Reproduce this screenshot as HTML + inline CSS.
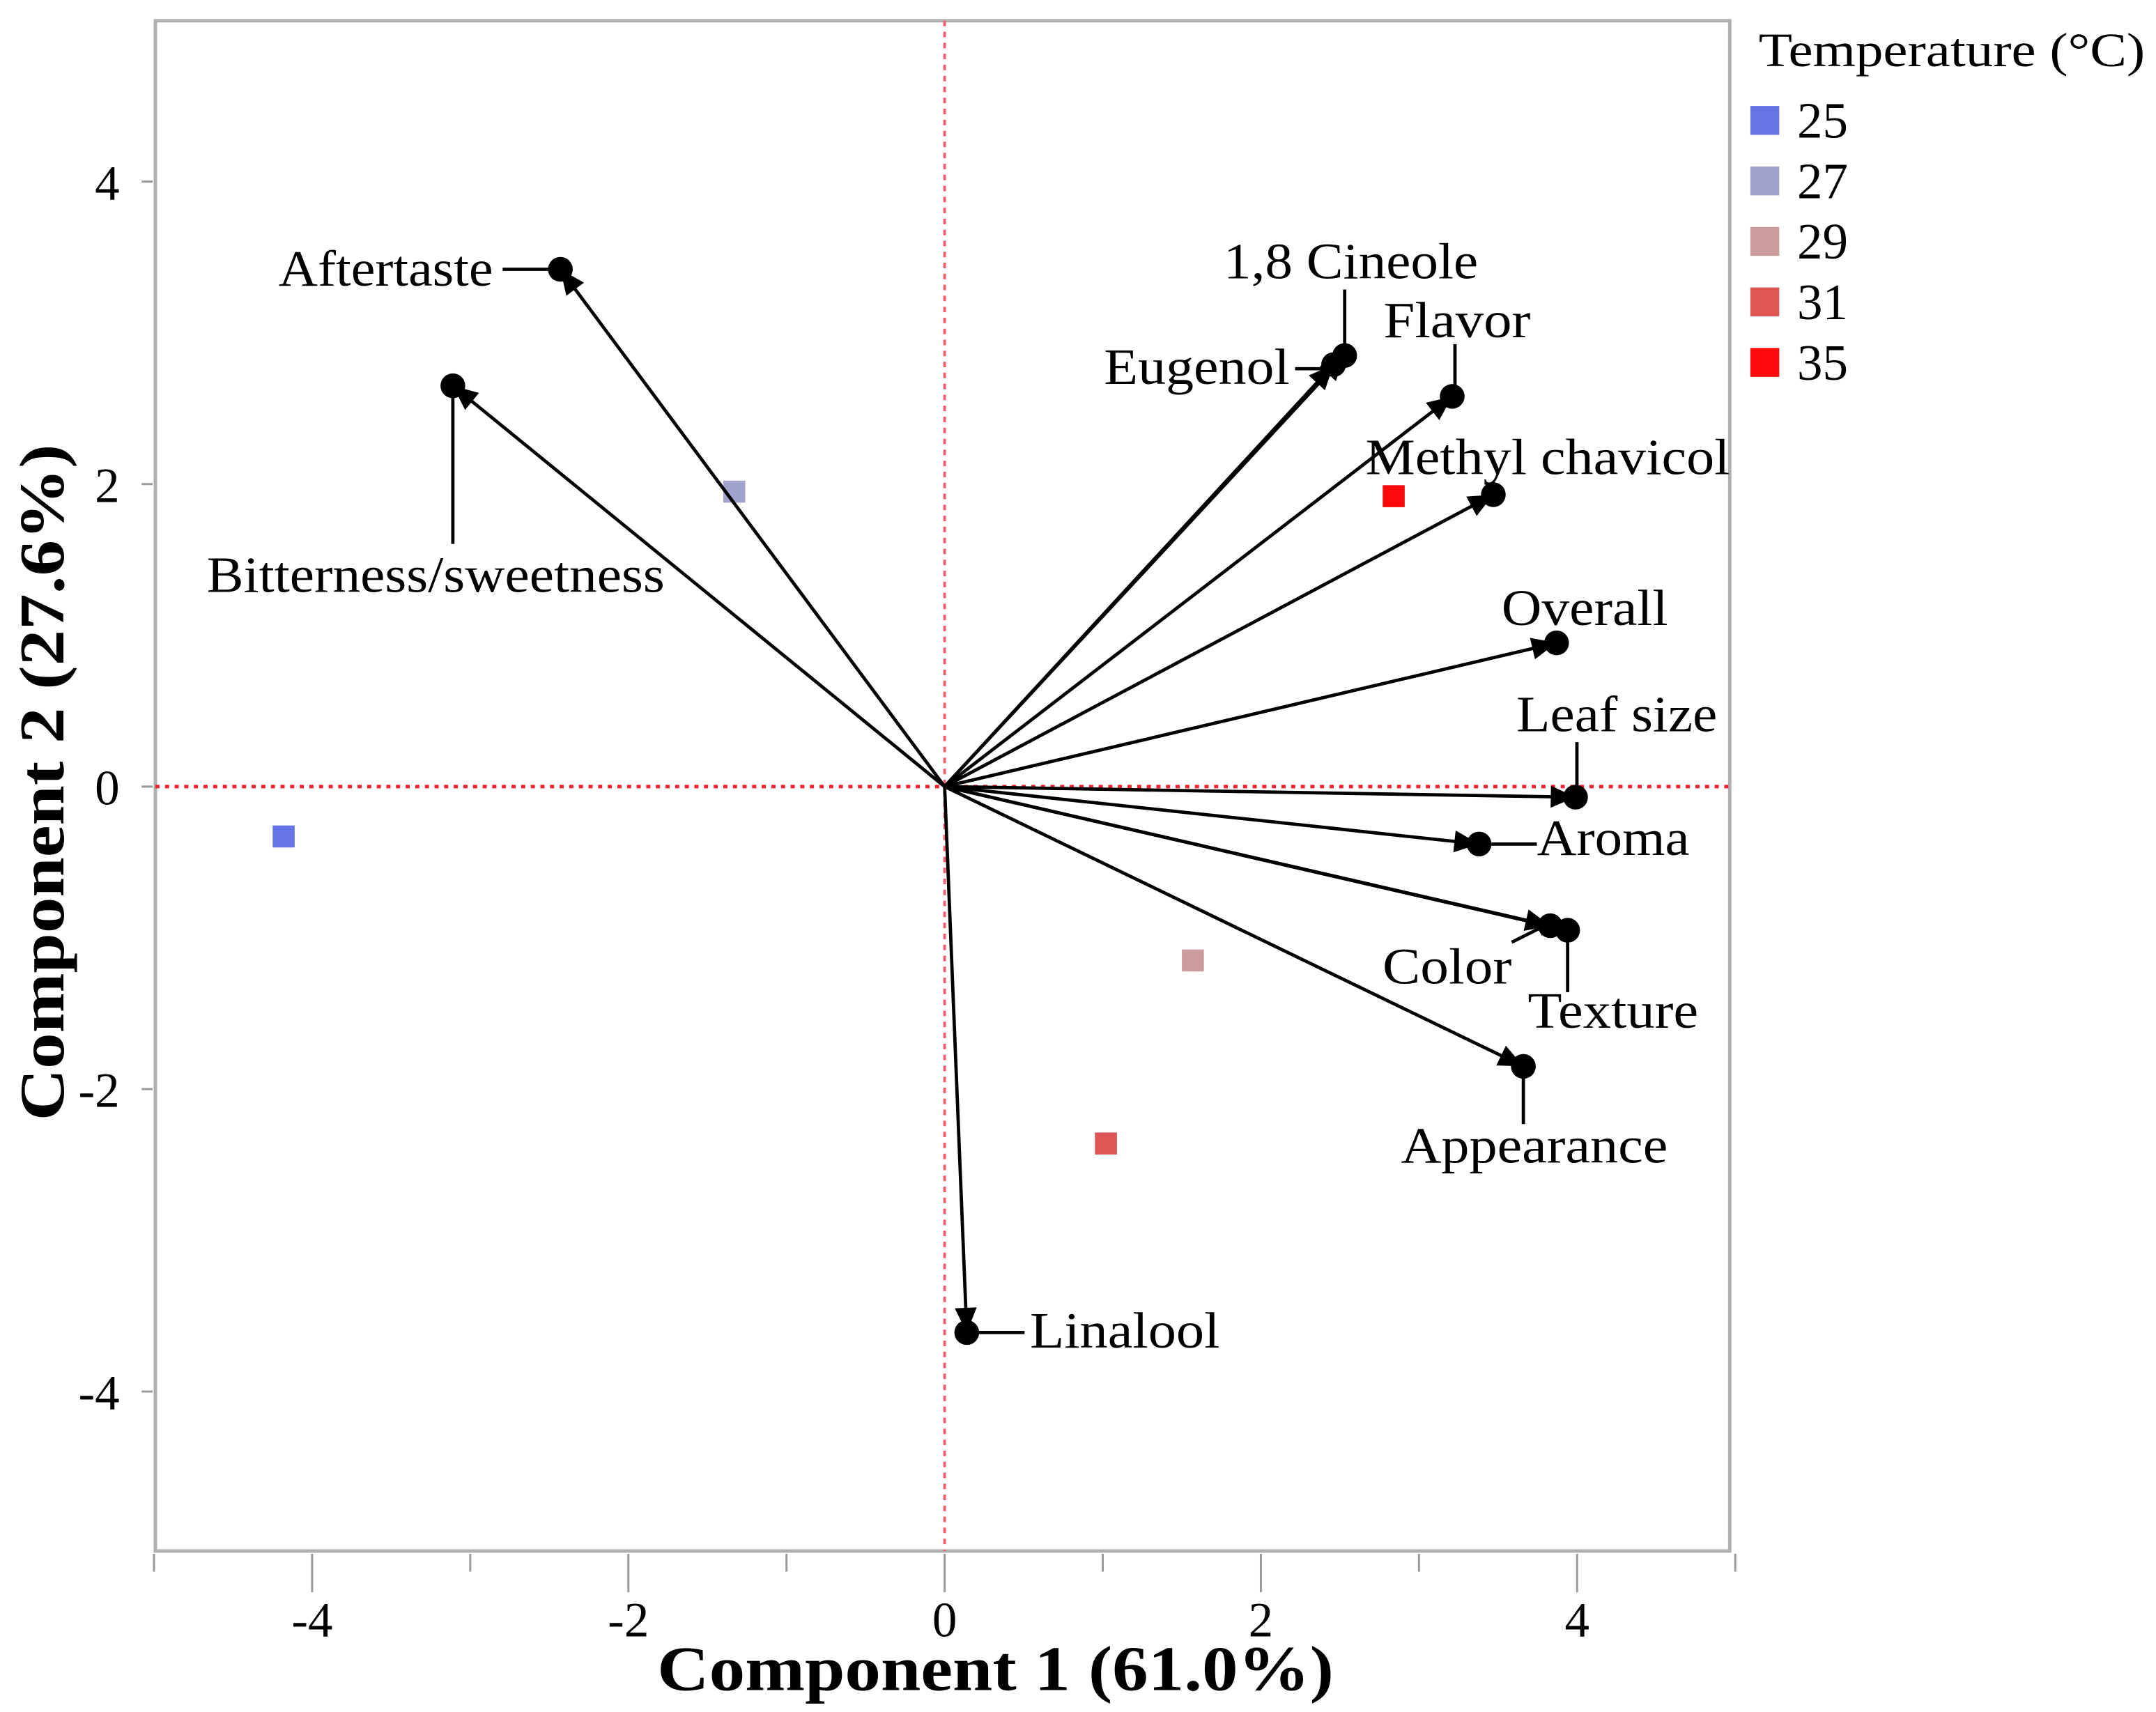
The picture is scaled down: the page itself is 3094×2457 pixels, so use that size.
<!DOCTYPE html>
<html><head><meta charset="utf-8">
<style>
html,body{margin:0;padding:0;background:#fff;}
svg{display:block;}
text{font-family:"Liberation Serif",serif;fill:#000;}
</style></head>
<body>
<svg id="chart" width="3094" height="2457" viewBox="0 0 1568 1245" xmlns="http://www.w3.org/2000/svg">
<rect x="0" y="0" width="1568" height="1245" fill="#fff"/>
<rect x="113" y="15" width="1145" height="1113" fill="none" stroke="#b0b0b0" stroke-width="2.5"/>
<g id="axes"></g>
<g id="marks"></g>
<text x="478" y="1229" font-size="46" font-weight="bold" textLength="492" lengthAdjust="spacingAndGlyphs">Component 1 (61.0%)</text>
<text transform="translate(46,815) rotate(-90)" font-size="46" font-weight="bold" textLength="492" lengthAdjust="spacingAndGlyphs">Component 2 (27.6%)</text>
<g>
<text x="1279" y="48" font-size="35" textLength="281" lengthAdjust="spacingAndGlyphs">Temperature (°C)</text>
<g id="legend-items"></g>
</g>
</svg>
<script>
var variables = ["Aftertaste","Bitterness/sweetness","1,8 Cineole","Eugenol","Flavor","Methyl chavicol","Overall","Leaf size","Aroma","Color","Texture","Appearance","Linalool"];
var loadX = [-2.43,-3.11,2.53,2.46,3.21,3.47,3.87,3.99,3.38,3.83,3.94,3.66,0.14];
var loadY = [3.42,2.65,2.85,2.79,2.58,1.93,0.95,-0.07,-0.38,-0.92,-0.95,-1.85,-3.61];
var temps = ["25","27","29","31","35"];
var scoreX = [-4.18,-1.33,1.57,1.02,2.84];
var scoreY = [-0.33,1.95,-1.15,-2.36,1.92];
var tempColors = ["#6674e6","#a0a4cc","#cc9c9c","#e05556","#fa0a0a"];
var xTicks = [-4,-2,0,2,4];
var yTicks = [-4,-2,0,2,4];

var NS="http://www.w3.org/2000/svg";
function X(v){return 687+115*v;}
function Y(v){return 572-110*v;}
function mk(tag,attrs,parent){var e=document.createElementNS(NS,tag);for(var k in attrs)e.setAttribute(k,attrs[k]);parent.appendChild(e);return e;}
var axes=document.getElementById('axes'), marks=document.getElementById('marks');

var r1=mk('line',{x1:X(0),y1:15,x2:X(0),y2:1128,stroke:'#f06070','stroke-width':2,'stroke-dasharray':'4,4'},axes);


var r2=mk('line',{x1:113,y1:Y(0),x2:1258,y2:Y(0),stroke:'#f02030','stroke-width':2.5,'stroke-dasharray':'3,4'},axes);



for(var t=-5;t<=5;t++){
  var major = (t%2===0);
  var tk=mk('line',{x1:X(t),y1:1130,x2:X(t),y2:major?1158:1143,stroke:'#999','stroke-width':1.5},axes);
  
  
}
xTicks.forEach(function(v){
  var tx=mk('text',{x:X(v),y:1190,'font-size':36,'text-anchor':'middle'},axes);
  tx.textContent=v;
  
  
});
yTicks.forEach(function(v){
  var tk=mk('line',{x1:103,y1:Y(v),x2:111,y2:Y(v),stroke:'#999','stroke-width':1.5},axes);
  
  
  var tx=mk('text',{x:87,y:Y(v)+13,'font-size':36,'text-anchor':'end'},axes);
  tx.textContent=v;
  
  
});

temps.forEach(function(t,i){
  var r=mk('rect',{x:X(scoreX[i])-8,y:Y(scoreY[i])-8,width:16,height:16,fill:tempColors[i]},marks);
  
  
  var lg=document.getElementById('legend-items');
  var yy=87+44*i;
  var sq=mk('rect',{x:1273,y:yy-10,width:21,height:21,fill:tempColors[i]},lg);
  
  
  var lt=mk('text',{x:1307,y:yy+13,'font-size':37},lg);
  lt.textContent=t;
  
  
});

// [dx,dy,anchor,leader,text width]
var lab = [
 [-205,12,'start',[-42,0,-6,0],156],
 [-179,150,'start',[0,5,0,115],333],
 [-88,-56,'start',[0,-48,0,-6],185],
 [-167,14,'start',[-28,3,-5,3],135],
 [-50,-43,'start',[2,-38,2,-5],107],
 [-93,-15,'start',[0,0,0,0],265],
 [-40,-13,'start',[0,0,0,0],121],
 [-43,-48,'start',[1,-40,1,-6],146],
 [42,8,'start',[9,0,42,0],111],
 [-122,42,'start',[-28,12,-4,0],94],
 [-29,71,'start',[0,4,0,45],124],
 [-89,70,'start',[0,4,0,42],194],
 [46,11,'start',[7,0,42,0],138]
];
variables.forEach(function(n,i){
  var px=X(loadX[i]), py=Y(loadY[i]);
  var ln=mk('line',{x1:X(0),y1:Y(0),x2:px,y2:py,stroke:'#000','stroke-width':2.4},marks);
  
  
  var ang=Math.atan2(py-Y(0),px-X(0));
  var bx=px-18*Math.cos(ang), by=py-18*Math.sin(ang);
  var nx=-Math.sin(ang)*8, ny=Math.cos(ang)*8;
  var ah=mk('polygon',{points:px+','+py+' '+(bx+nx)+','+(by+ny)+' '+(bx-nx)+','+(by-ny),fill:'#000'},marks);
  
  
  var c=mk('circle',{cx:px,cy:py,r:9,fill:'#000'},marks);
  
  
  var L=lab[i], ld=L[3];
  if(ld[0]||ld[1]||ld[2]||ld[3]){
    var ll=mk('line',{x1:px+ld[0],y1:py+ld[1],x2:px+ld[2],y2:py+ld[3],stroke:'#000','stroke-width':2.4},marks);
    
    
  }
  var tx=mk('text',{x:px+L[0],y:py+L[1],'font-size':37,'text-anchor':L[2],textLength:L[4],lengthAdjust:'spacingAndGlyphs'},marks);
  tx.textContent=n;
  
  
});
</script>
</body></html>
